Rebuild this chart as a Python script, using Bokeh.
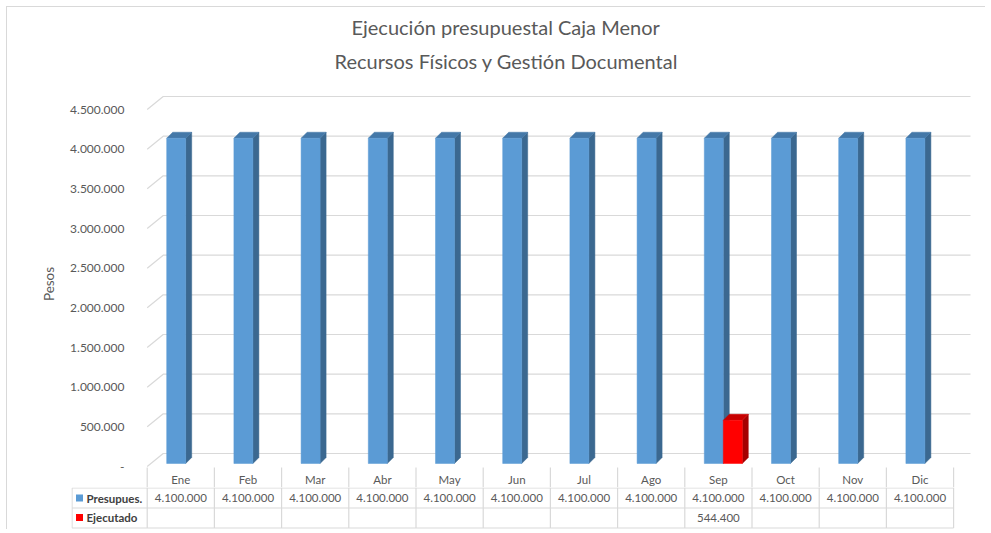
from bokeh.plotting import figure
from bokeh.models import Range1d, FixedTicker, Title
from bokeh.layouts import column
from bokeh.embed import file_html
from bokeh.resources import INLINE
from bokeh.core.properties import value

# ---------------- data ----------------
months = ["Ene", "Feb", "Mar", "Abr", "May", "Jun", "Jul", "Ago", "Sep", "Oct", "Nov", "Dic"]
presupuesto = [4100000, 4100000, 4100000, 4100000, 4100000, 4100000,
               4100000, 4100000, 4100000, 4100000, 4100000, 4100000]
ejecutado = [None, None, None, None, None, None, None, None, 544400, None, None, None]
series_names = ["Presupues.", "Ejecutado"]
y_ticks = [0, 500000, 1000000, 1500000, 2000000, 2500000, 3000000, 3500000, 4000000, 4500000]
y_tick_labels = ["-", "500.000", "1.000.000", "1.500.000", "2.000.000", "2.500.000",
                 "3.000.000", "3.500.000", "4.000.000", "4.500.000"]
title_lines = ["Ejecución presupuestal Caja Menor", "Recursos Físicos y Gestión Documental"]
y_title = "Pesos"

# ---------------- styles ----------------
FONT = "Lato"
TXT = "#595959"
GRID = "#D9D9D9"
FRONT = ["#5B9BD5", "#FF0000"]
SIDE = ["#3B6890", "#A50000"]
TOP = ["#4478A8", "#C80000"]

CELL = 67.2            # px per category
CELL0 = 146.7          # px of first category cell left edge (page coords)
TOTAL_W = 985
FRAME_L, FRAME_R = 145, 972
FRAME_T, FRAME_B = 80, 487
ZERO = 466             # px of value 0 on the front plane
FW, FH = FRAME_R - FRAME_L, FRAME_B - FRAME_T
PXV = 357 / 4500000    # px per value unit (front plane)


def cx(px):
    return (px - CELL0) / CELL


def vy(px):
    return px / PXV


def fmt(v):
    return "" if v is None else f"{v:,}".replace(",", ".")


# ---------------- chart ----------------
p = figure(frame_width=FW, frame_height=FH, output_backend="svg", toolbar_location=None,
           x_range=Range1d(cx(FRAME_L), cx(FRAME_R)),
           y_range=Range1d(-vy(FRAME_B - ZERO), vy(ZERO - FRAME_T)),
           x_axis_location=None, min_border_left=FRAME_L, min_border_right=TOTAL_W - FRAME_R,
           min_border_top=FRAME_T, min_border_bottom=0)
p.frame_align = False
p.outline_line_color = None
p.border_fill_color = None
p.background_fill_color = None
p.grid.visible = False

ax = p.yaxis[0]
ax.ticker = FixedTicker(ticks=y_ticks)
ax.major_label_overrides = {t: l for t, l in zip(y_ticks, y_tick_labels)}
ax.axis_line_color = None
ax.major_tick_line_color = None
ax.minor_tick_line_color = None
ax.major_tick_out = 0
ax.major_label_standoff = 21
ax.major_label_text_font = FONT
ax.major_label_text_font_size = "12px"
ax.major_label_text_color = TXT
ax.axis_label = y_title
ax.axis_label_text_font = FONT
ax.axis_label_text_font_style = "normal"
ax.axis_label_text_font_size = "13.5px"
ax.axis_label_text_color = TXT
ax.axis_label_standoff = 10

title_offsets = [206, 189]
title_standoffs = [0, 16]
for line, off, so in reversed(list(zip(title_lines, title_offsets, title_standoffs))):
    p.add_layout(Title(text=line, align="left", offset=off, text_font=FONT,
                       text_font_size="20px", text_font_style="normal",
                       text_color=TXT, standoff=so), "above")

# 3D walls / gridlines
wdx, wdy = cx(CELL0 + 16), vy(13)
x_end = cx(970)
xs, ys = [], []
for t in y_ticks:
    xs.append([0, wdx, x_end])
    ys.append([t, t + wdy, t + wdy])
p.multi_line(xs=xs, ys=ys, line_color=GRID, line_width=1.2)

# header row of the data table (month names) lives under the floor
n = len(months)
p.multi_line(xs=[[k, k] for k in range(n + 1)],
             ys=[[-vy(1), -vy(FRAME_B - ZERO)] for _ in range(n + 1)],
             line_color=GRID, line_width=1.2)
p.text(x=[i + 0.5 for i in range(n)], y=[-vy(13)] * n, text=months, text_align="center",
       text_baseline="middle", text_font=value(FONT), text_font_size="11.5px", text_color=TXT)

# bars
bw = 19 / CELL
off = 19.5 / CELL
ddx, ddy = 6 / CELL, vy(6)
base = vy(3)
for si, series in enumerate([presupuesto, ejecutado]):
    L, R, T, B, sx, sy, tx, ty = [], [], [], [], [], [], [], []
    for i, v in enumerate(series):
        if v is None:
            continue
        l = i + off + si * bw
        r = l + bw
        top = v + base
        L.append(l); R.append(r); T.append(top); B.append(base)
        sx.append([r, r + ddx, r + ddx, r])
        sy.append([base, base + ddy, top + ddy, top])
        tx.append([l, l + ddx, r + ddx, r])
        ty.append([top, top + ddy, top + ddy, top])
    p.patches(xs=sx, ys=sy, fill_color=SIDE[si], line_color=SIDE[si], line_width=0.5)
    p.patches(xs=tx, ys=ty, fill_color=TOP[si], line_color=TOP[si], line_width=0.5)
    p.quad(left=L, right=R, top=T, bottom=B, fill_color=FRONT[si], line_color=FRONT[si],
           line_width=0.5)

# ---------------- data table rows ----------------
LEG_L = 71
TH = 42
t = figure(frame_width=TOTAL_W - LEG_L, frame_height=TH, output_backend="svg",
           toolbar_location=None,
           x_range=Range1d(cx(LEG_L), cx(TOTAL_W)), y_range=Range1d(TH, 0),
           x_axis_location=None, y_axis_location=None,
           min_border_left=LEG_L, min_border_right=0, min_border_top=0, min_border_bottom=0)
t.frame_align = False
t.outline_line_color = None
t.border_fill_color = None
t.background_fill_color = None
t.grid.visible = False

legx = cx(LEG_L + 0.5)
rows_y = [0.5, 20.5, 40.5]
vx, vys = [], []
for k in range(n + 1):
    vx.append([k, k]); vys.append([0, rows_y[-1]])
vx.append([legx, legx]); vys.append([rows_y[0], rows_y[-1]])
for ry in rows_y:
    vx.append([legx, n]); vys.append([ry, ry])
t.multi_line(xs=vx, ys=vys, line_color=GRID, line_width=1.2)

cxs = [i + 0.5 for i in range(n)]
for si, (series, yy) in enumerate(zip([presupuesto, ejecutado], [10.5, 30])):
    t.text(x=cxs, y=[yy] * n, text=[fmt(v) for v in series], text_align="center",
           text_baseline="middle", text_font=value(FONT), text_font_size="11.5px",
           text_color=TXT)
    t.scatter(x=[cx(79)], y=[yy], marker="square", size=7, fill_color=FRONT[si],
              line_color=None)
    t.text(x=[cx(86)], y=[yy], text=[series_names[si]], text_align="left",
           text_baseline="middle", text_font=value(FONT), text_font_size="11.5px",
           text_font_style="bold", text_color="#404040")

frame_css = {
    "background-color": "white",
    "background-image": "linear-gradient(#D9D9D9, #D9D9D9), linear-gradient(#D9D9D9, #D9D9D9)",
    "background-size": "100% 1px, 1px 100%",
    "background-position": "6px 6px, 6px 6px",
    "background-repeat": "no-repeat",
}
layout = column(p, t, spacing=0, styles=frame_css)
open("out.html", "w").write(file_html(layout, INLINE))
